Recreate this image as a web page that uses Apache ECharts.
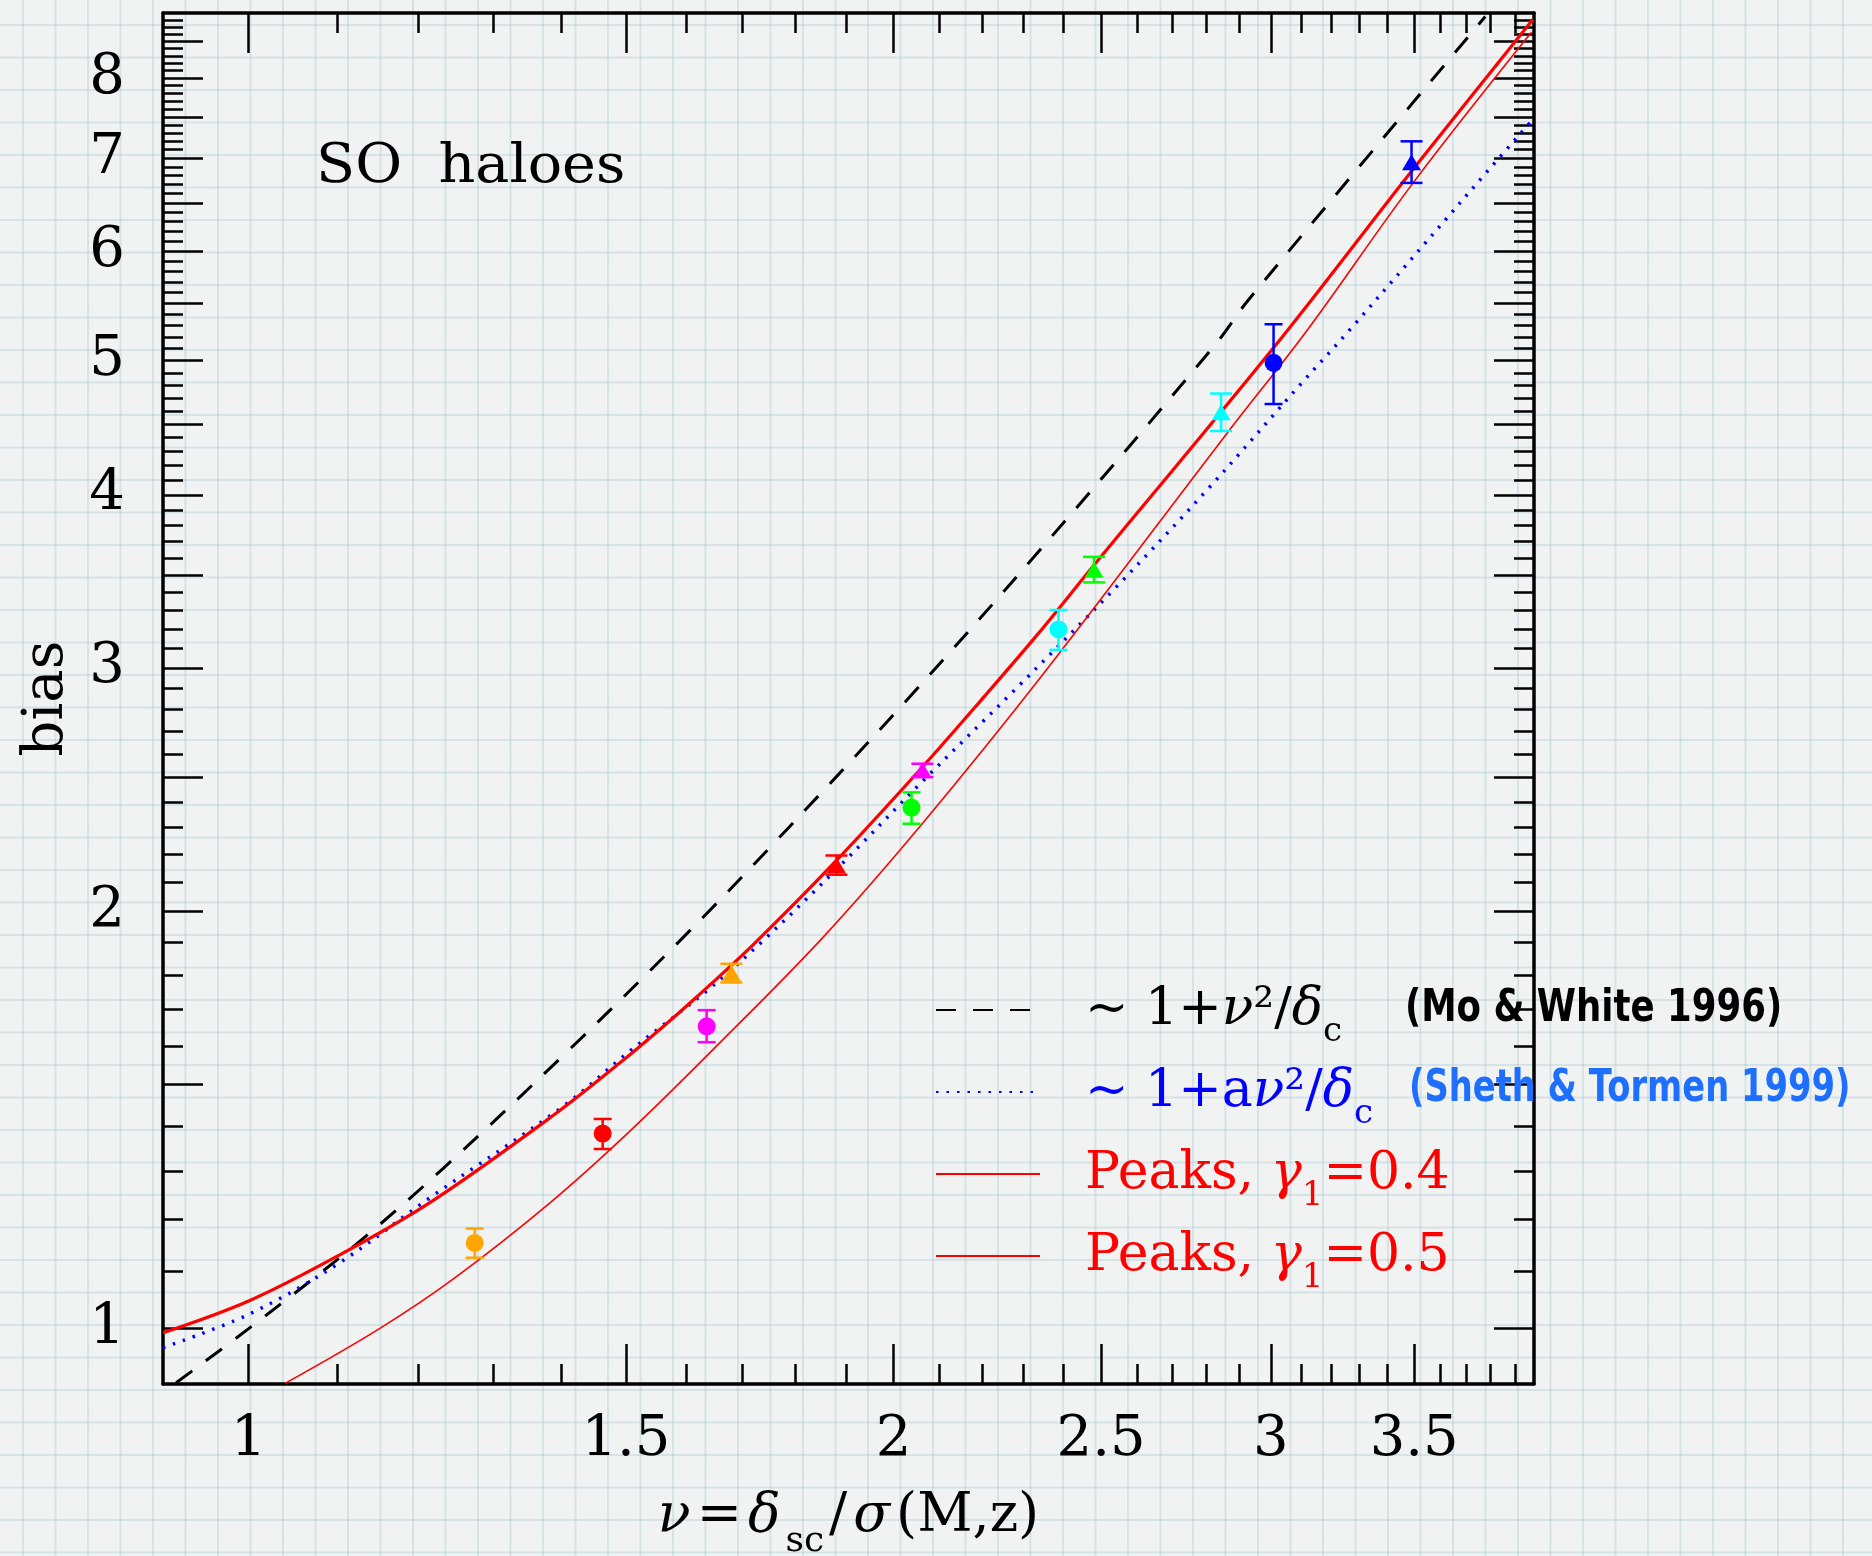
<!DOCTYPE html>
<html>
<head>
<meta charset="utf-8">
<title>Bias of SO haloes vs peak height</title>
<script src="https://cdn.jsdelivr.net/npm/echarts@6/dist/echarts.min.js"></script>
<style>
  html, body { margin: 0; padding: 0; }
  body {
    width: 1872px; height: 1556px; overflow: hidden;
    background-color: #f1f2f2;
    background-image:
      linear-gradient(to right, rgba(150, 190, 202, 0.30) 2px, transparent 2px),
      linear-gradient(to bottom, rgba(150, 190, 202, 0.30) 2px, transparent 2px);
    background-size: 32.5px 32.5px;
    background-position: 22px 24px;
  }
  #chart { width: 1872px; height: 1556px; }
</style>
</head>
<body>
<div id="chart"></div>
<script>
// ---- model curves: peak height nu and large-scale bias b ----
// Mo & White (1996)
const mwNu   = [0.925, 1.0, 1.122, 1.233, 1.409, 1.586, 1.750, 2.026, 2.337, 2.825, 2.928, 3.778];
const mwBias = [0.914, 1.0, 1.150, 1.306, 1.586, 1.899, 2.223, 2.837, 3.639, 5.131, 5.528, 8.86];
// Sheth & Tormen (1999)
const stNu   = [0.912, 1.0, 1.1, 1.215, 1.402, 1.506, 1.635, 1.737, 1.887, 2.063, 2.272, 2.542, 2.810, 3.100, 3.260, 3.796, 3.977];
const stBias = [0.969, 1.024, 1.113, 1.243, 1.447, 1.586, 1.752, 1.904, 2.157, 2.484, 2.880, 3.434, 4.054, 4.814, 5.246, 6.880, 7.470];
// peaks, gamma_1 = 0.4
const pk4Nu   = [0.912, 1.0, 1.1, 1.215, 1.392, 1.490, 1.561, 1.618, 1.722, 1.881, 2.063, 2.196, 2.337, 2.481, 2.670, 3.051, 3.490, 3.977];
const pk4Bias = [0.993, 1.047, 1.128, 1.233, 1.431, 1.555, 1.652, 1.735, 1.897, 2.178, 2.544, 2.840, 3.177, 3.560, 4.081, 5.246, 6.850, 8.820];
// peaks, gamma_1 = 0.5
const pk5Nu   = [1.040, 1.151, 1.248, 1.382, 1.506, 1.659, 1.853, 2.063, 2.354, 2.866, 3.116, 3.494, 3.970];
const pk5Bias = [0.913, 1.000, 1.088, 1.232, 1.388, 1.608, 1.915, 2.316, 2.982, 4.443, 5.246, 6.711, 8.630];

// ---- measured bias with 1-sigma errors ----
const pointColors = ['#ffa500', '#ff0000', '#ff00ff', '#00ff00', '#00ffff', '#0000ff'];
const circNu   = [1.275, 1.463, 1.636, 2.039, 2.388, 3.009];
const circBias = [1.153, 1.383, 1.653, 2.378, 3.198, 4.982];
const circLo   = [1.125, 1.348, 1.610, 2.315, 3.091, 4.652];
const circHi   = [1.181, 1.417, 1.698, 2.439, 3.303, 5.312];
const triNu    = [1.680, 1.881, 2.063, 2.481, 2.844, 3.490];
const triBias  = [1.806, 2.161, 2.530, 3.532, 4.589, 6.954];
const triLo    = [1.778, 2.127, 2.502, 3.458, 4.448, 6.719];
const triHi    = [1.834, 2.196, 2.558, 3.608, 4.734, 7.200];

// ---- axis ticks ----
const xMajor  = [1, 1.5, 2, 2.5, 3, 3.5];
const xLabels = [1, 1.5, 2, 2.5, 3, 3.5];
const yMajor  = [1, 1.5, 2, 2.5, 3, 3.5, 4, 4.5, 5, 5.5, 6, 6.5, 7, 7.5, 8, 8.5];
const yLabels = [1, 2, 3, 4, 5, 6, 7, 8];
const xMinor = [];
for (let i = 10; i <= 39; i++) if (i % 5) xMinor.push(i / 10);
const yMinor = [];
for (let i = 10; i <= 88; i++) if (i % 5) yMinor.push(i / 10);

// both axes are logarithmic: work in log10 space on value axes
const L = v => Math.log10(v);
const X_RANGE = [-0.04, 0.6];
const Y_RANGE = [-0.04, 0.95];
const fmt = v => String(+Math.pow(10, v).toFixed(1));

const SERIF = "'DejaVu Serif', serif";

function axis(dim, position, ticks, len, showLine, labels, extra) {
  const range = dim === 'x' ? X_RANGE : Y_RANGE;
  return Object.assign({
    type: 'value', position, min: range[0], max: range[1],
    splitLine: { show: false }, minorTick: { show: false },
    axisLine: { show: showLine, onZero: false, lineStyle: { color: '#000', width: 3.5 } },
    axisTick: { show: true, inside: true, length: len, customValues: ticks.map(L),
                lineStyle: { color: '#000', width: 2.5 } },
    axisLabel: labels ? {
      show: true, customValues: labels.map(L), formatter: fmt,
      fontFamily: SERIF, fontSize: 56, color: '#000',
      margin: dim === 'x' ? 28 : 38
    } : { show: false },
    axisPointer: { show: false }
  }, extra || {});
}

function curve(name, nu, bias, color, width, type) {
  return {
    name, type: 'line', silent: true, z: 2, smooth: 0.35, symbol: 'none',
    data: nu.map((v, i) => [L(v), L(bias[i])]),
    lineStyle: { color, width, type },
    itemStyle: { color, opacity: 0 }
  };
}

function errorBars(nu, lo, hi, capWidth) {
  return {
    type: 'custom', silent: true, z: 4, clip: true,
    data: nu.map((v, i) => [L(v), L(lo[i]), L(hi[i])]),
    encode: { x: 0, y: [1, 2] },
    renderItem: (params, api) => {
      const a = api.coord([api.value(0), api.value(1)]);
      const b = api.coord([api.value(0), api.value(2)]);
      const h = capWidth / 2;
      const style = { stroke: pointColors[params.dataIndex], lineWidth: 2.5 };
      return { type: 'group', children: [
        { type: 'line', shape: { x1: a[0], y1: a[1], x2: b[0], y2: b[1] }, style },
        { type: 'line', shape: { x1: a[0] - h, y1: a[1], x2: a[0] + h, y2: a[1] }, style },
        { type: 'line', shape: { x1: b[0] - h, y1: b[1], x2: b[0] + h, y2: b[1] }, style }
      ]};
    }
  };
}

function markers(nu, bias, symbol, size) {
  return {
    type: 'scatter', silent: true, z: 5, symbol, symbolSize: size,
    data: nu.map((v, i) => ({ value: [L(v), L(bias[i])], itemStyle: { color: pointColors[i], opacity: 1 } }))
  };
}

// rich text styles: normal, italic greek, subscript
function richSet(prefix, color) {
  const o = {};
  o[prefix + '0'] = { fontFamily: SERIF, fontSize: 52, color, padding: [0, 0, 0, 40] };
  o[prefix + 'n'] = { fontFamily: SERIF, fontSize: 52, color };
  o[prefix + 'g'] = { fontFamily: SERIF, fontSize: 52, fontStyle: 'italic', color };
  o[prefix + 's'] = { fontFamily: SERIF, fontSize: 34, height: 34, padding: [44, 0, 0, 0],
                      verticalAlign: 'bottom', color };
  return o;
}
const legendRich = Object.assign({},
  richSet('k', '#000000'), richSet('b', '#0000ff'), richSet('r', '#ff0000'));
const legendText = {
  mw:  '{k0|~ 1+}{kg|ν}{kn|²/}{kg|δ}{ks|c}',
  st:  '{b0|~ 1+a}{bg|ν}{bn|²/}{bg|δ}{bs|c}',
  pk4: '{r0|Peaks, }{rg|γ}{rs|1}{rn|=0.4}',
  pk5: '{r0|Peaks, }{rg|γ}{rs|1}{rn|=0.5}'
};
// references quoted next to the first two legend rows
const creditText  = ['(Mo & White 1996)', '(Sheth & Tormen 1999)'];
const creditColor = ['#000000', '#1f6fff'];

const chart = echarts.init(document.getElementById('chart'), null, { renderer: 'canvas' });
chart.setOption({
  backgroundColor: 'transparent',
  animation: false,
  grid: { left: 163, right: 338, top: 13, bottom: 172, containLabel: false, outerBoundsMode: 'none' },
  xAxis: [
    axis('x', 'bottom', xMajor, 40, true, xLabels, {
      name: '{g|ν}{n|=}{g|δ}{s|sc}{n|/}{g|σ}{n|(M,z)}',
      nameLocation: 'middle', nameGap: 90, nameMoveOverlap: false,
      nameTextStyle: { rich: {
        n: { fontFamily: SERIF, fontSize: 54, color: '#000', padding: [0, 3, 0, 3] },
        g: { fontFamily: SERIF, fontSize: 54, fontStyle: 'italic', color: '#000', padding: [0, 3, 0, 3] },
        s: { fontFamily: SERIF, fontSize: 36, height: 36, padding: [50, 2, 0, 2], verticalAlign: 'bottom', color: '#000' }
      } }
    }),
    axis('x', 'bottom', xMinor, 20, false, null),
    axis('x', 'top', xMajor, 40, true, null),
    axis('x', 'top', xMinor, 20, false, null)
  ],
  yAxis: [
    axis('y', 'left', yMajor, 40, true, yLabels, {
      name: 'bias', nameLocation: 'middle', nameRotate: 90, nameGap: 88, nameMoveOverlap: false,
      nameTextStyle: { fontFamily: SERIF, fontSize: 56, color: '#000' }
    }),
    axis('y', 'left', yMinor, 20, false, null),
    axis('y', 'right', yMajor, 40, true, null),
    axis('y', 'right', yMinor, 20, false, null)
  ],
  legend: {
    orient: 'vertical', left: 935, top: 984, padding: 0, itemGap: 17,
    itemWidth: 104, itemHeight: 14, selectedMode: false,
    data: ['mw', 'st', 'pk4', 'pk5'],
    formatter: name => legendText[name],
    textStyle: { fontFamily: SERIF, fontSize: 52, rich: legendRich }
  },
  graphic: [{
    type: 'text', x: 316, y: 168, z: 10, scaleX: 1.04,
    style: { text: 'SO  haloes', font: "55px 'DejaVu Serif'", fill: '#000', align: 'left', verticalAlign: 'middle' }
  }, {
    type: 'text', x: 1405, y: 1009, z: 10, scaleX: 0.79,
    style: { text: creditText[0], font: "bold 45px 'DejaVu Sans'", fill: creditColor[0], align: 'left', verticalAlign: 'middle' }
  }, {
    type: 'text', x: 1409, y: 1089, z: 10, scaleX: 0.75,
    style: { text: creditText[1], font: "bold 45px 'DejaVu Sans'", fill: creditColor[1], align: 'left', verticalAlign: 'middle' }
  }],
  series: [
    curve('mw', mwNu, mwBias, '#000000', 3, [20, 17]),
    curve('st', stNu, stBias, '#0000ff', 3.5, [2.5, 8]),
    curve('pk4', pk4Nu, pk4Bias, '#ff0000', 3.2, 'solid'),
    curve('pk5', pk5Nu, pk5Bias, '#ff0000', 1.6, 'solid'),
    errorBars(circNu, circLo, circHi, 18),
    errorBars(triNu, triLo, triHi, 22),
    markers(circNu, circBias, 'circle', 18),
    markers(triNu, triBias, 'triangle', [19, 16])
  ]
});
</script>
</body>
</html>
